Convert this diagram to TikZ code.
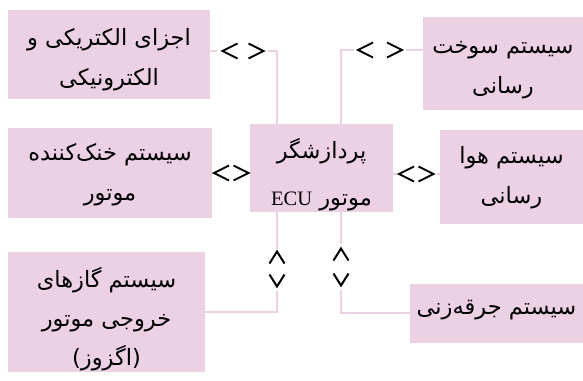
\documentclass[tikz,border=0pt]{standalone}
\usepackage{fontspec}
\setmainfont{Liberation Serif}
\newfontfamily\fa[Script=Arabic]{DejaVu Sans}
\newfontfamily\lat{Liberation Serif}
\TeXXeTstate=1
\newcommand\tstrut[1]{\rule{0pt}{#1pt}}
\newcommand\bstrut[1]{\rule[-#1pt]{0pt}{0pt}}
\definecolor{boxpink}{RGB}{236,209,229}
\tikzset{
  box/.style={fill=boxpink, draw=none, inner sep=0pt, align=center,
              font=\fa\fontsize{22.5}{40}\selectfont},
  conn/.style={draw=boxpink, line width=2pt},
  chev/.style={draw=black, line width=2pt, line cap=butt, line join=miter},
  gapbox/.style={fill=white, draw=none},
  pics/chl/.style={code={\draw[chev] (7.5,-7.5) -- (-7.5,0) -- (7.5,7.5);}},
  pics/chr/.style={code={\draw[chev] (-7.5,-7.5) -- (7.5,0) -- (-7.5,7.5);}},
  pics/chu/.style={code={\draw[chev] (-7.5,6) -- (0,-6) -- (7.5,6);}},
  pics/chd/.style={code={\draw[chev] (-7.5,-6) -- (0,6) -- (7.5,-6);}},
}
\begin{document}
\begin{tikzpicture}[x=1pt,y=-1pt]
\useasboundingbox[fill=white] (0,0) rectangle (583,380);
% boxes
\node[box, minimum width=202pt, minimum height=89pt] (b1) at (109,54.5)
  {\tstrut{34}\beginR اجزای الکتریکی و\endR\\\beginR الکترونیکی\endR\bstrut{12}};
\node[box, minimum width=160pt, minimum height=93pt] (b2) at (503,63.5)
  {\tstrut{31}\beginR سیستم سوخت\endR\\\beginR رسانی\endR\bstrut{12}};
\node[box, minimum width=204pt, minimum height=90pt] (b3) at (110,173)
  {\tstrut{26}\beginR سیستم خنک‌کننده\endR\\\beginR موتور\endR\bstrut{12}};
\node[box, minimum width=143pt, minimum height=88pt, font=\fa\fontsize{22.5}{47}\selectfont] (ecu) at (321.5,168)
  {\tstrut{34}\beginR پردازشگر\endR\\\beginR موتور \beginL{\lat\fontsize{20.5}{47}\selectfont ECU}\endL\endR\bstrut{7}};
\node[box, minimum width=143pt, minimum height=94pt] (b4) at (511.5,177)
  {\tstrut{24}\beginR سیستم هوا\endR\\\beginR رسانی\endR\bstrut{12}};
\node[box, minimum width=197pt, minimum height=120pt, font=\fa\fontsize{22.5}{39}\selectfont] (b5) at (106.5,312)
  {\tstrut{35}\beginR سیستم گازهای\endR\\\beginR خروجی موتور\endR\\\beginR (اگزوز)\endR\bstrut{7}};
\node[box, minimum width=173pt, minimum height=59pt] (b6) at (496.5,313.5)
  {\tstrut{21}\beginR سیستم جرقه‌زنی\endR\bstrut{20}};
% helper coordinates
\coordinate (xl) at (277,0);
\coordinate (xr) at (341,0);
\coordinate (y1) at (0,51);
\coordinate (y2) at (0,50);
\coordinate (y3) at (0,173);
\coordinate (y4) at (0,174);
\coordinate (y5) at (0,312);
\coordinate (y6) at (0,313);
% connectors
\draw[conn] (b1.east |- y1) -| (ecu.north -| xl);
\draw[conn] (b2.west |- y2) -| (ecu.north -| xr);
\draw[conn] (b3.east |- y3) -- (ecu.west |- y3);
\draw[conn] (ecu.east |- y4) -- (b4.west |- y4);
\draw[conn] (b5.east |- y5) -| (ecu.south -| xl);
\draw[conn] (b6.west |- y6) -| (ecu.south -| xr);
% gaps behind chevrons
\fill[gapbox] (217,42) rectangle (268,60);
\fill[gapbox] (354,41) rectangle (406,59);
\fill[gapbox] (213,163) rectangle (249,183);
\fill[gapbox] (397,164) rectangle (437,184);
\fill[gapbox] (266,249) rectangle (288,291);
\fill[gapbox] (330,244) rectangle (352,290);
% chevrons
\pic at (230,51) {chl};   \pic at (256,51) {chr};
\pic at (365.5,50) {chl}; \pic at (394.5,50) {chr};
\pic at (221.5,173) {chl}; \pic at (241,173) {chr};
\pic at (406.5,174) {chl}; \pic at (426,174) {chr};
\pic at (277,257.5) {chu}; \pic at (277,280.5) {chd};
\pic at (341,254.5) {chu}; \pic at (341,279.5) {chd};
\end{tikzpicture}
\end{document}
